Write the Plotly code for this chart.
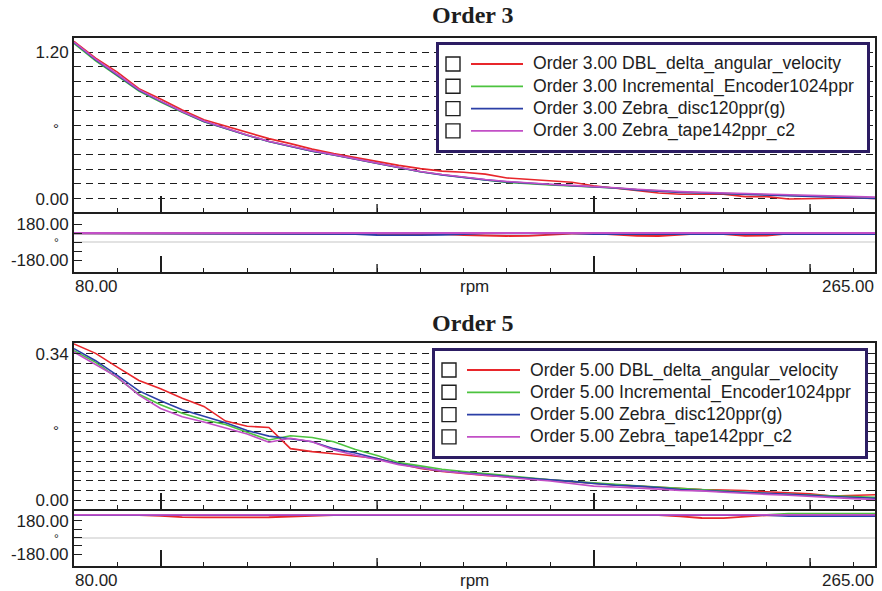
import plotly.graph_objects as go

# ---------------- data ----------------
RPM = [80, 85, 90, 95, 100, 105, 110, 115, 120, 125, 130, 135, 140, 145, 150, 155, 160, 165, 170,
       175, 180, 185, 190, 195, 200, 205, 210, 215, 220, 225, 230, 235, 240, 245, 250, 255, 260, 265]

O3_LABELS = ["Order 3.00 DBL_delta_angular_velocity", "Order 3.00 Incremental_Encoder1024ppr",
             "Order 3.00 Zebra_disc120ppr(g)", "Order 3.00 Zebra_tape142ppr_c2"]
O5_LABELS = ["Order 5.00 DBL_delta_angular_velocity", "Order 5.00 Incremental_Encoder1024ppr",
             "Order 5.00 Zebra_disc120ppr(g)", "Order 5.00 Zebra_tape142ppr_c2"]

o3_dbl_mag = [1.288, 1.150, 1.035, 0.900, 0.815, 0.725, 0.645, 0.592, 0.540, 0.491, 0.450, 0.405, 0.368,
              0.335, 0.303, 0.272, 0.245, 0.225, 0.215, 0.200, 0.169, 0.157, 0.149, 0.134, 0.105, 0.085,
              0.063, 0.046, 0.035, 0.038, 0.035, 0.016, 0.016, -0.003, 0.000, 0.008, 0.005, 0.000]
o3_inc_mag = [1.270, 1.128, 1.005, 0.880, 0.790, 0.706, 0.630, 0.573, 0.518, 0.468, 0.428, 0.388, 0.357,
              0.322, 0.287, 0.250, 0.220, 0.195, 0.172, 0.152, 0.133, 0.120, 0.112, 0.104, 0.097, 0.087,
              0.073, 0.061, 0.054, 0.048, 0.042, 0.036, 0.031, 0.025, 0.020, 0.015, 0.011, 0.007]
o3_disc_mag = [1.278, 1.136, 1.012, 0.886, 0.796, 0.710, 0.632, 0.574, 0.519, 0.468, 0.428, 0.388, 0.357,
               0.322, 0.287, 0.250, 0.219, 0.194, 0.172, 0.153, 0.137, 0.124, 0.115, 0.105, 0.098, 0.086,
               0.071, 0.058, 0.051, 0.045, 0.039, 0.033, 0.027, 0.021, 0.015, 0.010, 0.005, 0.000]
o3_tape_mag = [1.282, 1.142, 1.018, 0.892, 0.800, 0.713, 0.636, 0.578, 0.521, 0.470, 0.431, 0.391, 0.360,
               0.325, 0.290, 0.253, 0.222, 0.197, 0.175, 0.156, 0.140, 0.126, 0.117, 0.108, 0.100, 0.089,
               0.076, 0.064, 0.057, 0.051, 0.046, 0.040, 0.035, 0.030, 0.025, 0.020, 0.016, 0.012]

o3_dbl_phase = [87, 87, 87, 87, 87, 87, 87, 87, 87, 87, 87, 87, 87, 87, 87, 87, 87, 80, 70, 62, 60, 62,
                72, 85, 87, 75, 62, 60, 75, 87, 80, 62, 65, 85, 87, 87, 87, 87]
o3_inc_phase = [88, 88, 88, 88, 88, 88, 88, 88, 88, 88, 88, 88, 88, 88, 88, 88, 88, 88, 88, 88, 88, 88,
                88, 88, 88, 88, 88, 88, 88, 88, 88, 88, 88, 88, 88, 88, 88, 88]
o3_disc_phase = [86, 86, 86, 86, 86, 86, 86, 86, 86, 86, 86, 86, 86, 80, 70, 68, 68, 72, 80, 86, 86, 86,
                 86, 86, 78, 78, 78, 78, 78, 78, 78, 78, 78, 78, 78, 78, 78, 78]
o3_tape_phase = [90, 90, 90, 90, 90, 90, 90, 90, 90, 90, 90, 90, 90, 90, 90, 90, 90, 90, 90, 90, 90, 90,
                 90, 90, 90, 90, 90, 90, 90, 90, 90, 90, 90, 90, 90, 90, 90, 90]

o5_dbl_mag = [0.363, 0.341, 0.309, 0.278, 0.259, 0.237, 0.218, 0.184, 0.172, 0.169, 0.120, 0.113, 0.108,
              0.103, 0.097, 0.085, 0.074, 0.067, 0.062, 0.058, 0.055, 0.051, 0.048, 0.044, 0.040, 0.036,
              0.033, 0.030, 0.027, 0.025, 0.024, 0.023, 0.020, 0.017, 0.015, 0.010, 0.011, 0.013]
o5_inc_mag = [0.347, 0.320, 0.284, 0.246, 0.222, 0.202, 0.187, 0.176, 0.158, 0.140, 0.150, 0.146, 0.136,
              0.118, 0.104, 0.088, 0.080, 0.072, 0.067, 0.062, 0.058, 0.052, 0.048, 0.044, 0.040, 0.037,
              0.034, 0.031, 0.027, 0.024, 0.022, 0.019, 0.016, 0.014, 0.012, 0.010, 0.008, 0.007]
o5_disc_mag = [0.352, 0.324, 0.290, 0.254, 0.231, 0.210, 0.195, 0.180, 0.162, 0.149, 0.143, 0.136, 0.120,
               0.110, 0.097, 0.085, 0.076, 0.068, 0.064, 0.059, 0.055, 0.051, 0.048, 0.044, 0.039, 0.035,
               0.033, 0.030, 0.025, 0.023, 0.020, 0.018, 0.016, 0.014, 0.012, 0.009, 0.007, 0.005]
o5_tape_mag = [0.344, 0.316, 0.286, 0.244, 0.213, 0.194, 0.182, 0.168, 0.154, 0.135, 0.144, 0.136, 0.117,
               0.105, 0.095, 0.083, 0.075, 0.068, 0.063, 0.058, 0.053, 0.049, 0.045, 0.039, 0.033, 0.031,
               0.029, 0.026, 0.023, 0.022, 0.019, 0.016, 0.014, 0.012, 0.009, 0.006, 0.004, 0.002]

o5_dbl_phase = [245, 245, 245, 245, 235, 222, 218, 218, 220, 220, 228, 240, 245, 245, 245, 245, 245, 245,
                245, 245, 245, 245, 245, 245, 245, 245, 245, 245, 230, 212, 210, 222, 242, 245, 245, 245,
                245, 245]
o5_inc_phase = [246, 246, 246, 246, 246, 246, 246, 246, 246, 246, 246, 246, 246, 246, 246, 246, 246, 246,
                246, 246, 246, 246, 246, 246, 246, 246, 246, 246, 246, 246, 246, 246, 246, 260, 260, 260,
                260, 260]
o5_disc_phase = [244, 244, 244, 244, 244, 244, 244, 244, 244, 244, 244, 244, 244, 244, 244, 244, 244, 244,
                 244, 244, 244, 244, 244, 244, 244, 244, 244, 244, 244, 244, 244, 244, 244, 234, 234, 234,
                 234, 234]
o5_tape_phase = [246, 246, 246, 246, 246, 246, 246, 246, 246, 246, 246, 246, 246, 246, 246, 246, 246, 246,
                 246, 246, 246, 246, 246, 246, 246, 246, 246, 246, 246, 246, 246, 246, 246, 246, 246, 246,
                 246, 246]

O3_MAG_MAX = 1.20
O5_MAG_MAX = 0.34
O3_GRID_STEPS = 10
O5_GRID_STEPS = 15
PHASE_LABEL = 180
X_MIN, X_MAX = 80, 265
X_MAJOR = [100, 200]
X_MEDIUM = [150, 250]

# ---------------- style ----------------
COLORS = ["#e8262b", "#4cc33f", "#2b3fa6", "#c24fc6"]
INK = "#1e1e1e"
SANS = "Liberation Sans, Arial, sans-serif"
SERIF = "Liberation Serif, Times New Roman, serif"
W, H = 882, 591
ML, MR, MT, MB = 74, 7, 38, 25
PH = H - MT - MB


def py2paper(py):
    return (H - MB - py) / PH


def px2paper(px):
    return (px - ML) / (W - ML - MR)


DOM = {
    1: [py2paper(212), 1.0],
    2: [py2paper(272), py2paper(212)],
    3: [py2paper(509), py2paper(343)],
    4: [0.0, py2paper(509)],
}

fig = go.Figure()

groups = [
    (O3_LABELS, [o3_dbl_mag, o3_inc_mag, o3_disc_mag, o3_tape_mag],
     [o3_dbl_phase, o3_inc_phase, o3_disc_phase, o3_tape_phase], 1, 2),
    (O5_LABELS, [o5_dbl_mag, o5_inc_mag, o5_disc_mag, o5_tape_mag],
     [o5_dbl_phase, o5_inc_phase, o5_disc_phase, o5_tape_phase], 3, 4),
]

for labels, mags, phases, ma, pa in groups:
    for i, (lab, m) in enumerate(zip(labels, mags)):
        fig.add_trace(go.Scatter(x=RPM, y=m, mode="lines", name=lab, showlegend=False,
                                 line=dict(color=COLORS[i], width=1.6),
                                 xaxis="x" if ma == 1 else f"x{ma}", yaxis="y" if ma == 1 else f"y{ma}"))
    for i, (lab, p) in enumerate(zip(labels, phases)):
        fig.add_trace(go.Scatter(x=RPM, y=p, mode="lines", name=lab, showlegend=False,
                                 line=dict(color=COLORS[i], width=1.8),
                                 xaxis=f"x{pa}", yaxis=f"y{pa}"))


def ax_name(n, kind):
    return f"{kind}axis" if n == 1 else f"{kind}axis{n}"


layout = {}
for n in range(1, 5):
    layout[ax_name(n, "x")] = dict(
        domain=[0, 1], range=[X_MIN, X_MAX], anchor="y" if n == 1 else f"y{n}",
        showline=True, mirror=(n in (1, 3)), linecolor=INK, linewidth=2,
        showgrid=False, zeroline=False, showticklabels=False,
        ticks="inside", tickvals=X_MAJOR, ticklen=16, tickwidth=1.6, tickcolor=INK,
        minor=dict(ticks="inside", tick0=X_MIN, dtick=10, ticklen=4, tickwidth=1.4,
                   tickcolor=INK, showgrid=False),
        fixedrange=True, automargin=False,
    )


def mag_axis(n, vmax, steps, lo, hi, mirror):
    vals = [vmax * k / steps for k in range(steps + 1)]
    text = [""] * len(vals)
    text[0] = "0.00"
    text[-1] = f"{vmax:.2f}"
    return dict(domain=DOM[n], range=[lo, hi], anchor="x" if n == 1 else f"x{n}",
                showline=True, mirror=mirror, linecolor=INK, linewidth=2,
                tickvals=vals, ticktext=text, ticks="inside", ticklen=6, tickwidth=1.4,
                tickcolor=INK, ticklabelstandoff=0,
                showgrid=True, gridcolor=INK, gridwidth=1.2, griddash="7px,5px",
                zeroline=False, tickfont=dict(family=SANS, size=17, color=INK),
                fixedrange=True, automargin=False)


def phase_axis(n, lo, hi):
    return dict(domain=DOM[n], range=[lo, hi], anchor=f"x{n}",
                showline=True, mirror=True, linecolor=INK, linewidth=2,
                tickvals=[-PHASE_LABEL, -PHASE_LABEL / 2, 0, PHASE_LABEL / 2, PHASE_LABEL],
                ticktext=[f"-{PHASE_LABEL:.2f}", "", "", "", f"{PHASE_LABEL:.2f}"],
                ticks="inside", ticklen=8, tickwidth=1.4, tickcolor=INK, ticklabelstandoff=0,
                showgrid=False, zeroline=True, zerolinecolor="#e2e2e2", zerolinewidth=2,
                tickfont=dict(family=SANS, size=17, color=INK),
                fixedrange=True, automargin=False)


layout["yaxis"] = mag_axis(1, O3_MAG_MAX, O3_GRID_STEPS, -0.11, 1.315, True)
layout["yaxis2"] = phase_axis(2, -300, 300)
layout["yaxis3"] = mag_axis(3, O5_MAG_MAX, O5_GRID_STEPS, -0.020, 0.365, "ticks")
layout["yaxis4"] = phase_axis(4, -310, 310)

shapes = []
annotations = []
# medium ticks at 150 / 250 on each panel
for n, hpx in [(1, 174), (2, 60), (3, 166), (4, 57)]:
    xr = "x" if n == 1 else f"x{n}"
    yr = ("y" if n == 1 else f"y{n}") + " domain"
    for v in X_MEDIUM:
        shapes.append(dict(type="line", xref=xr, yref=yr, x0=v, x1=v, y0=0, y1=8 / hpx,
                           line=dict(color=INK, width=1.4), layer="above"))

# legend blocks: frame, check box, colour key and series name for every series
LEG = [
    dict(labels=O3_LABELS, box=(437.5, 43.5, 868.5, 151.5), chk_x=453, key=(471, 523), txt_x=532, row0=64),
    dict(labels=O5_LABELS, box=(433.5, 349.5, 866.5, 457.5), chk_x=449, key=(467, 520), txt_x=529, row0=370),
]
ROW = 22.3
for lg in LEG:
    x0, y0, x1, y1 = lg["box"]
    shapes.append(dict(type="rect", xref="paper", yref="paper",
                       x0=px2paper(x0), x1=px2paper(x1), y0=py2paper(y1), y1=py2paper(y0),
                       line=dict(color="#2c1d63", width=3), fillcolor="white", layer="above"))
    for i, lab in enumerate(lg["labels"]):
        cy = lg["row0"] + i * ROW
        shapes.append(dict(type="rect", xref="paper", yref="paper",
                           x0=px2paper(lg["chk_x"] - 7), x1=px2paper(lg["chk_x"] + 7),
                           y0=py2paper(cy + 7), y1=py2paper(cy - 7),
                           line=dict(color=INK, width=1.4), fillcolor="white", layer="above"))
        shapes.append(dict(type="line", xref="paper", yref="paper",
                           x0=px2paper(lg["key"][0]), x1=px2paper(lg["key"][1]),
                           y0=py2paper(cy), y1=py2paper(cy),
                           line=dict(color=COLORS[i], width=1.8), layer="above"))
        annotations.append(dict(text=lab, xref="paper", yref="paper", x=px2paper(lg["txt_x"]),
                                y=py2paper(cy), xanchor="left", yanchor="middle", showarrow=False,
                                borderpad=0, font=dict(family=SANS, size=17.6, color=INK)))

for title, cy in [("Order 3", 15), ("Order 5", 323)]:
    annotations.append(dict(text=f"<b>{title}</b>", xref="paper", yref="paper", x=px2paper(473),
                            y=py2paper(cy), xanchor="center", yanchor="middle", showarrow=False,
                            font=dict(family=SERIF, size=24, color=INK)))
for n, bottom in [(2, DOM[2][0]), (4, DOM[4][0])]:
    for txt, xv, anc in [(f"{X_MIN:.2f}", X_MIN, "left"), ("rpm", (X_MIN + X_MAX) / 2, "center"),
                         (f"{X_MAX:.2f}", X_MAX, "right")]:
        annotations.append(dict(text=txt, xref=f"x{n}", yref="paper", x=xv, y=bottom,
                                xanchor=anc, yanchor="middle", yshift=-14, showarrow=False,
                                borderpad=0, font=dict(family=SANS, size=17, color=INK)))
# degree unit labels at middle of each y scale
for yr, mid, fs, ys in [("y", O3_MAG_MAX / 2, 15, -3), ("y2", 0, 12, -1),
                        ("y3", O5_MAG_MAX / 2, 15, -3), ("y4", 0, 12, -1)]:
    annotations.append(dict(text="°", xref="paper", yref=yr, x=0, y=mid, xanchor="center",
                            yanchor="middle", xshift=-18, yshift=ys, showarrow=False,
                            borderpad=0, font=dict(family=SANS, size=fs, color=INK)))

fig.update_layout(
    width=W, height=H, margin=dict(l=ML, r=MR, t=MT, b=MB, pad=0),
    paper_bgcolor="white", plot_bgcolor="white", showlegend=False,
    shapes=shapes, annotations=annotations,
    **layout,
)

fig.write_html("out.html")
